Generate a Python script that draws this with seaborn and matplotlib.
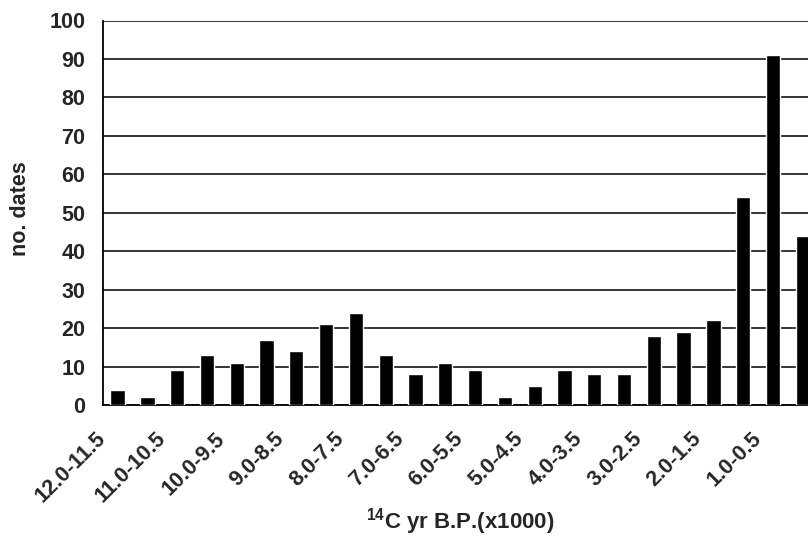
import numpy as np
import pandas as pd
import matplotlib
matplotlib.use("Agg")
import matplotlib.pyplot as plt
import matplotlib.transforms as mtransforms
import seaborn as sns

# data
age_bins = ["12.0-11.5", "11.5-11.0", "11.0-10.5", "10.5-10.0", "10.0-9.5", "9.5-9.0",
            "9.0-8.5", "8.5-8.0", "8.0-7.5", "7.5-7.0", "7.0-6.5", "6.5-6.0",
            "6.0-5.5", "5.5-5.0", "5.0-4.5", "4.5-4.0", "4.0-3.5", "3.5-3.0",
            "3.0-2.5", "2.5-2.0", "2.0-1.5", "1.5-1.0", "1.0-0.5", "0.5-0.0"]
n_dates = [4, 2, 9, 13, 11, 17, 14, 21, 24, 13, 8, 11,
           9, 2, 5, 9, 8, 8, 18, 19, 22, 54, 91, 44]
y_ticks = list(range(0, 101, 10))

sns.set_style("white")
plt.rcParams["font.family"] = ["Liberation Sans", "DejaVu Sans"]
plt.rcParams["font.weight"] = "bold"
plt.rcParams["mathtext.fontset"] = "custom"
plt.rcParams["mathtext.bf"] = "Liberation Sans:bold"
plt.rcParams["mathtext.rm"] = "Liberation Sans:bold"

df = pd.DataFrame({"bin": age_bins, "n": n_dates})

fig = plt.figure(figsize=(8.08, 5.37), dpi=100)
# axes runs past the right edge of the figure, as in the original (last bar clipped)
ax = fig.add_axes([102.7 / 808, (537 - 405) / 537, 715 / 808, 384.5 / 537])

sns.barplot(data=df, x="bin", y="n", color="black", saturation=1,
            width=0.48, ax=ax, zorder=3)

ax.set_ylim(0, 100)
ax.set_xlim(-0.5, len(age_bins) - 0.5)
ax.set_yticks(y_ticks)
ax.set_yticklabels([str(v) for v in y_ticks], fontsize=15.5, fontweight="bold")
ax.yaxis.grid(True, color="black", linewidth=1.1, zorder=1)
ax.set_axisbelow(True)

# tick marks between categories, labels on every other category
pos = np.arange(len(age_bins))
ax.set_xticks(pos)
ax.set_xticklabels([b if i % 2 == 0 else "" for i, b in enumerate(age_bins)],
                   fontsize=15.5, fontweight="bold", rotation=45,
                   ha="right", va="center", rotation_mode="anchor")
ax.tick_params(axis="x", which="major", length=0, pad=22)
ax.set_xticks(pos[:-1] + 0.5, minor=True)
ax.tick_params(axis="x", which="minor", length=6, width=1.2, color="black", direction="out")
ax.tick_params(axis="y", length=6.5, width=1.2, color="black", direction="out", pad=6)
shift = mtransforms.ScaledTranslation(-15 / 100, 0, fig.dpi_scale_trans)
for lab in ax.get_xticklabels():
    lab.set_transform(lab.get_transform() + shift)

for s in ["top", "right"]:
    ax.spines[s].set_visible(False)
for s in ["left", "bottom"]:
    ax.spines[s].set_color("black")
    ax.spines[s].set_linewidth(1.3)

ax.set_ylabel("no. dates", fontsize=15.5, fontweight="bold")
ax.yaxis.set_label_coords(-0.100, 0.51)
ax.set_xlabel(r"$\mathbf{^{14}}$C yr B.P.(x1000)", fontsize=16, fontweight="bold")
ax.xaxis.set_label_coords(0.5, -0.262)

fig.savefig("out.png", dpi=100)
